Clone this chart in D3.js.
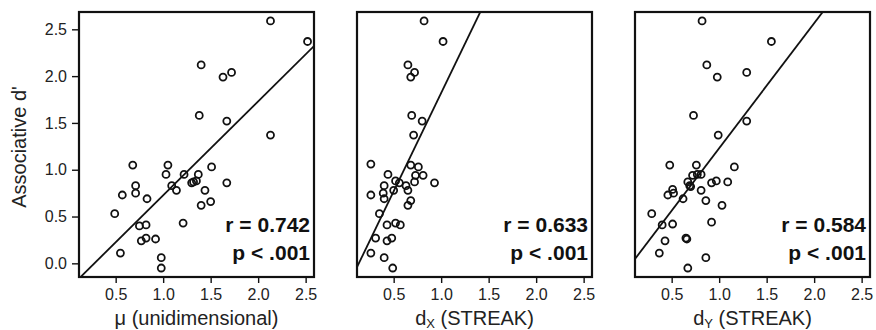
<!DOCTYPE html>
<html>
<head>
<meta charset="utf-8">
<script src="https://cdn.jsdelivr.net/npm/d3@7"></script>
<style>
  body { margin: 0; background: #fff; }
  text { font-family: "Liberation Sans", Arial, sans-serif; fill: #111; }
  .axis path.domain { display: none; }
  .axis line { stroke: #111; stroke-width: 1.4; }
  .axis text { font-size: 16px; fill: #222; }
</style>
</head>
<body>
<div id="canvas"></div>
<script>
// data
var muX = [2.13,1.40,1.63,1.72,1.38,1.67,2.13,2.52,0.68,1.05,1.03,1.22,1.51,1.37,1.32,1.35,1.30,1.67,1.09,1.14,0.71,0.71,0.57,0.83,1.44,1.50,1.40,0.49,1.21,0.75,0.82,0.82,0.92,0.77,0.55,0.98,0.98];
var muY = [2.59,2.12,1.99,2.04,1.58,1.52,1.37,2.37,1.05,1.05,0.95,0.95,1.03,0.95,0.87,0.88,0.86,0.86,0.83,0.78,0.83,0.75,0.73,0.69,0.78,0.66,0.62,0.53,0.43,0.40,0.41,0.27,0.26,0.24,0.11,0.06,-0.05];

var dxX = [0.82,1.02,0.65,0.72,0.68,0.69,0.80,0.71,0.26,0.68,0.76,0.44,0.73,0.81,0.93,0.52,0.56,0.72,0.63,0.40,0.65,0.50,0.39,0.26,0.40,0.68,0.65,0.35,0.52,0.43,0.57,0.48,0.43,0.31,0.26,0.40,0.49];
var dxY = [2.59,2.37,2.12,2.04,1.99,1.58,1.52,1.37,1.06,1.05,1.03,0.95,0.94,0.94,0.86,0.88,0.86,0.87,0.83,0.83,0.78,0.78,0.75,0.73,0.69,0.67,0.62,0.53,0.43,0.41,0.41,0.27,0.24,0.27,0.11,0.06,-0.05];

var dyX = [0.82,1.55,0.87,1.29,0.98,0.73,1.29,0.99,0.48,0.76,1.16,0.72,0.77,0.81,0.92,0.97,1.09,0.67,0.69,0.70,0.51,0.52,0.46,0.81,0.62,0.86,1.03,0.29,0.40,0.51,0.92,0.65,0.66,0.43,0.37,0.86,0.67];
var dyY = [2.59,2.37,2.12,2.04,1.99,1.58,1.52,1.37,1.05,1.05,1.03,0.94,0.95,0.95,0.86,0.88,0.87,0.87,0.83,0.82,0.79,0.75,0.73,0.78,0.69,0.67,0.62,0.53,0.41,0.42,0.44,0.27,0.26,0.24,0.11,0.06,-0.05];

var xTicks = [0.5, 1.0, 1.5, 2.0, 2.5];
var yTicks = [0.0, 0.5, 1.0, 1.5, 2.0, 2.5];

var slopes = [1.004, 2.10, 1.335],
    intercepts = [-0.277, -0.28, -0.105];
var rLabels = ['r = 0.742', 'r = 0.633', 'r = 0.584'];
var pLabels = ['p < .001', 'p < .001', 'p < .001'];

var panels = [
  {x: muX, y: muY, title: ['\u03bc (unidimensional)']},
  {x: dxX, y: dxY, title: ['d', 'X', ' (STREAK)']},
  {x: dyX, y: dyY, title: ['d', 'Y', ' (STREAK)']}
];

var outerWidth = 876, outerHeight = 330;
var m = {t: 12, l: 79};
var w = 235, h = 265, gap = 43;

var svg = d3.select('#canvas')
    .append('svg')
    .attr('width', outerWidth)
    .attr('height', outerHeight);

var scaleX = d3.scaleLinear().domain([0.114, 2.588]).range([0, w]);
var scaleY = d3.scaleLinear().domain([-0.146, 2.685]).range([h, 0]);

panels.forEach(function(p, i) {
  var plot = svg.append('g')
      .attr('transform', 'translate(' + (m.l + i * (w + gap)) + ',' + m.t + ')');

  plot.append('clipPath').attr('id', 'clip' + i)
    .append('rect').attr('width', w).attr('height', h);

  // regression line
  var x0 = scaleX.domain()[0], x1 = scaleX.domain()[1];
  plot.append('line')
    .attr('clip-path', 'url(#clip' + i + ')')
    .attr('x1', scaleX(x0)).attr('y1', scaleY(slopes[i] * x0 + intercepts[i]))
    .attr('x2', scaleX(x1)).attr('y2', scaleY(slopes[i] * x1 + intercepts[i]))
    .style('stroke', '#111').style('stroke-width', 1.8);

  plot.selectAll('circle')
    .data(d3.range(p.x.length))
    .enter()
    .append('circle')
    .attr('cx', function(d) { return scaleX(p.x[d]); })
    .attr('cy', function(d) { return scaleY(p.y[d]); })
    .attr('r', 3.5)
    .style('fill', 'none')
    .style('stroke', '#111')
    .style('stroke-width', 1.8);

  plot.append('rect')
    .attr('width', w).attr('height', h)
    .style('fill', 'none').style('stroke', '#111').style('stroke-width', 2.2);

  var axisX = d3.axisBottom(scaleX)
      .tickValues(xTicks)
      .tickFormat(d3.format('.1f'))
      .tickSize(6)
      .tickPadding(6);
  plot.append('g').attr('class', 'axis axis-x')
    .attr('transform', 'translate(0,' + h + ')')
    .call(axisX);

  if (i === 0) {
    var axisY = d3.axisLeft(scaleY)
        .tickValues(yTicks)
        .tickFormat(d3.format('.1f'))
        .tickSize(7)
        .tickPadding(5);
    plot.append('g').attr('class', 'axis axis-y').call(axisY);
  }

  // stats
  plot.append('text')
    .attr('x', w - 4).attr('y', 220)
    .attr('text-anchor', 'end')
    .style('font-size', '21px').style('font-weight', 'bold')
    .text(rLabels[i]);
  plot.append('text')
    .attr('x', w - 4).attr('y', 248)
    .attr('text-anchor', 'end')
    .style('font-size', '21px').style('font-weight', 'bold')
    .text(pLabels[i]);

  // x title
  var t = plot.append('text')
    .attr('x', w / 2).attr('y', 313)
    .attr('text-anchor', 'middle')
    .style('font-size', '20px').style('fill', '#222');
  if (p.title.length === 1) {
    t.text(p.title[0]);
  } else {
    t.append('tspan').text(p.title[0]);
    t.append('tspan').attr('dy', 3).style('font-size', '13px').text(p.title[1]);
    t.append('tspan').attr('dy', -3).text(p.title[2]);
  }
});

svg.append('text')
  .attr('transform', 'translate(26,147) rotate(-90)')
  .attr('text-anchor', 'middle')
  .style('font-size', '20px').style('fill', '#222')
  .text("Associative d'");
</script>
</body>
</html>
